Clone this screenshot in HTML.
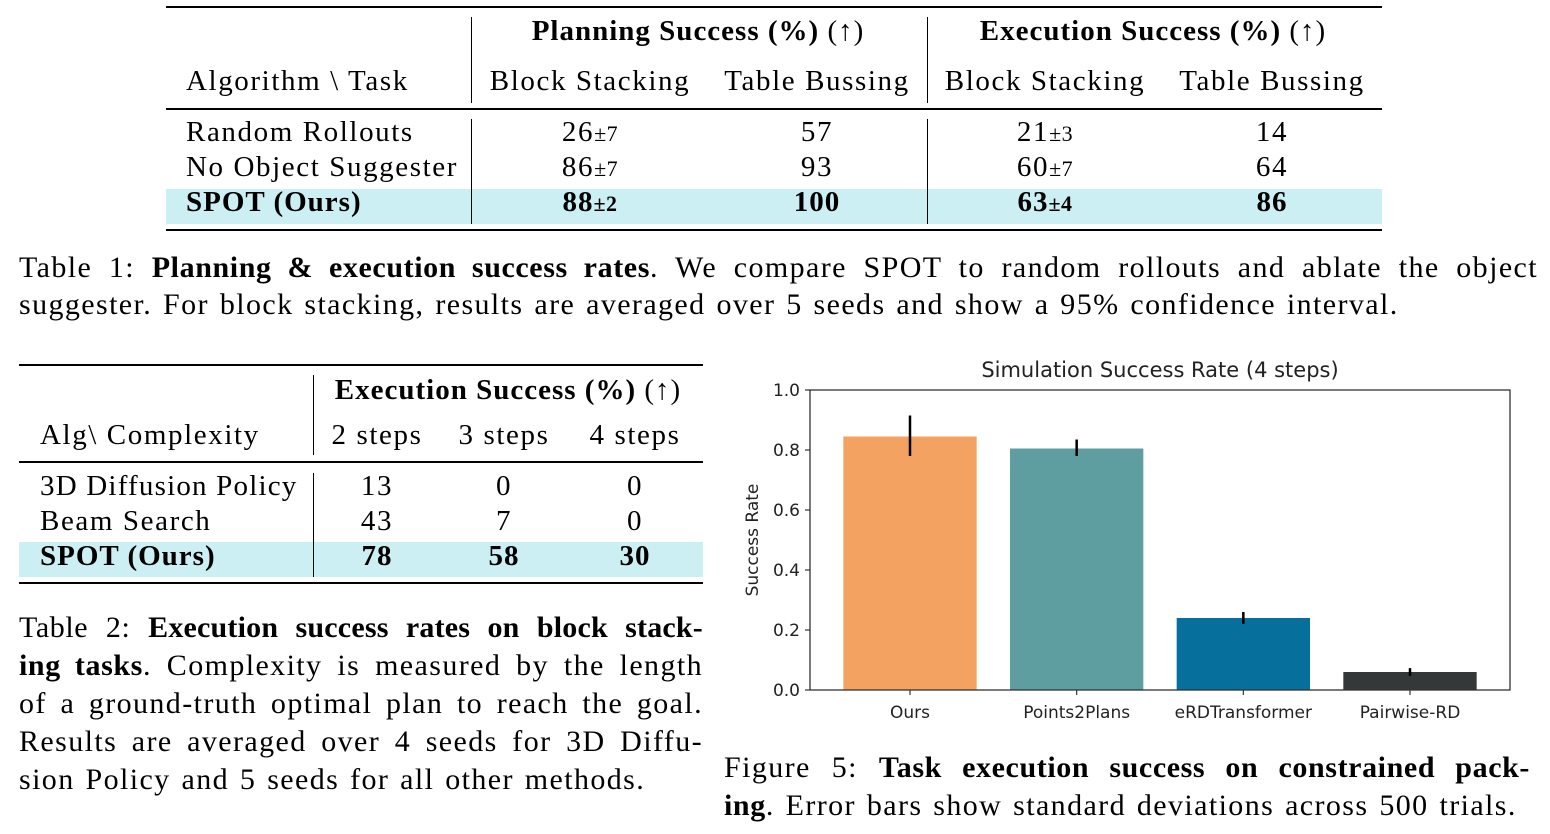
<!DOCTYPE html>
<html><head><meta charset="utf-8">
<style>
body{margin:0;width:1550px;height:834px;background:#fff;position:relative;overflow:hidden;font-family:"Liberation Serif",serif;color:#000}
.t{position:absolute;font-size:29px;line-height:1;white-space:nowrap;letter-spacing:1.6px}
.c{transform:translateX(-50%)}
.b{font-weight:bold}
.t.b,.t .b{letter-spacing:1px}
.r{position:absolute;background:#000}
.hl{position:absolute;background:#cbeff2}
.cap{position:absolute;font-size:30px;line-height:1;white-space:nowrap;letter-spacing:1.4px;word-spacing:2px}
.cap b{letter-spacing:0.6px}
.j{text-align:justify;text-align-last:justify;white-space:normal}
small{font-size:22px;letter-spacing:0.5px}
</style></head><body>
<div>
<div class="hl" style="left:166px;top:189px;width:1216px;height:35px"></div>
<div class="r" style="left:166px;top:6px;width:1216px;height:2px"></div>
<div class="r" style="left:166px;top:108px;width:1216px;height:1.5px"></div>
<div class="r" style="left:166px;top:229px;width:1216px;height:2px"></div>
<div class="r" style="left:471px;top:17px;width:1px;height:86px"></div>
<div class="r" style="left:927px;top:17px;width:1px;height:86px"></div>
<div class="r" style="left:471px;top:119px;width:1px;height:105px"></div>
<div class="r" style="left:927px;top:119px;width:1px;height:105px"></div>
<div class="t c b" style="left:698px;top:17px">Planning Success (%) <span style="font-weight:normal">(↑)</span></div>
<div class="t c b" style="left:1153px;top:17px">Execution Success (%) <span style="font-weight:normal">(↑)</span></div>
<div class="t" style="left:186px;top:67px">Algorithm \ Task</div>
<div class="t c" style="left:590px;top:67px">Block Stacking</div>
<div class="t c" style="left:817px;top:67px">Table Bussing</div>
<div class="t c" style="left:1045px;top:67px">Block Stacking</div>
<div class="t c" style="left:1272px;top:67px">Table Bussing</div>
<div class="t" style="left:186px;top:118px">Random Rollouts</div>
<div class="t c" style="left:590px;top:118px">26<small>±7</small></div>
<div class="t c" style="left:817px;top:118px">57</div>
<div class="t c" style="left:1045px;top:118px">21<small>±3</small></div>
<div class="t c" style="left:1272px;top:118px">14</div>
<div class="t" style="left:186px;top:153px">No Object Suggester</div>
<div class="t c" style="left:590px;top:153px">86<small>±7</small></div>
<div class="t c" style="left:817px;top:153px">93</div>
<div class="t c" style="left:1045px;top:153px">60<small>±7</small></div>
<div class="t c" style="left:1272px;top:153px">64</div>
<div class="t b" style="left:186px;top:188px">SPOT (Ours)</div>
<div class="t c b" style="left:590px;top:188px">88<small>±2</small></div>
<div class="t c b" style="left:817px;top:188px">100</div>
<div class="t c b" style="left:1045px;top:188px">63<small>±4</small></div>
<div class="t c b" style="left:1272px;top:188px">86</div>
</div>
<div>
<div class="cap j" style="left:19px;top:253px;width:1519px">Table 1: <b>Planning &amp; execution success rates</b>. We compare SPOT to random rollouts and ablate the object</div>
<div class="cap" style="left:19px;top:290px">suggester. For block stacking, results are averaged over 5 seeds and show a 95% confidence interval.</div>
</div>
<div>
<div class="hl" style="left:19px;top:542px;width:684px;height:35px"></div>
<div class="r" style="left:19px;top:364px;width:684px;height:2px"></div>
<div class="r" style="left:19px;top:461px;width:684px;height:1.5px"></div>
<div class="r" style="left:19px;top:582px;width:684px;height:2px"></div>
<div class="r" style="left:313px;top:375px;width:1px;height:80px"></div>
<div class="r" style="left:313px;top:473px;width:1px;height:104px"></div>
<div class="t c b" style="left:508px;top:376px">Execution Success (%) <span style="font-weight:normal">(↑)</span></div>
<div class="t" style="left:40px;top:421px">Alg\ Complexity</div>
<div class="t c" style="left:377px;top:421px">2 steps</div>
<div class="t c" style="left:504px;top:421px">3 steps</div>
<div class="t c" style="left:635px;top:421px">4 steps</div>
<div class="t" style="left:40px;top:472px;letter-spacing:1.2px">3D Diffusion Policy</div>
<div class="t c" style="left:377px;top:472px">13</div>
<div class="t c" style="left:504px;top:472px">0</div>
<div class="t c" style="left:635px;top:472px">0</div>
<div class="t" style="left:40px;top:507px">Beam Search</div>
<div class="t c" style="left:377px;top:507px">43</div>
<div class="t c" style="left:504px;top:507px">7</div>
<div class="t c" style="left:635px;top:507px">0</div>
<div class="t b" style="left:40px;top:542px">SPOT (Ours)</div>
<div class="t c b" style="left:377px;top:542px">78</div>
<div class="t c b" style="left:504px;top:542px">58</div>
<div class="t c b" style="left:635px;top:542px">30</div>
</div>
<div>
<div class="cap j" style="left:19px;top:613px;width:684px;letter-spacing:0.6px;word-spacing:0"><b style="font-weight:normal;letter-spacing:0.6px">Table 2:</b> <b style="letter-spacing:0.2px">Execution success rates on block stack-</b></div>
<div class="cap j" style="left:19px;top:651px;width:684px"><b>ing tasks</b>. Complexity is measured by the length</div>
<div class="cap j" style="left:19px;top:689px;width:684px">of a ground-truth optimal plan to reach the goal.</div>
<div class="cap j" style="left:19px;top:727px;width:684px">Results are averaged over 4 seeds for 3D Diffu-</div>
<div class="cap" style="left:19px;top:765px">sion Policy and 5 seeds for all other methods.</div>
</div>
<div>
<div class="cap j" style="left:724px;top:753px;width:806px">Figure 5: <b>Task execution success on constrained pack-</b></div>
<div class="cap" style="left:724px;top:791px"><b>ing</b>. Error bars show standard deviations across 500 trials.</div>
</div>
<svg id="chart" style="position:absolute;left:0;top:0" width="1550" height="834" font-family="DejaVu Sans, sans-serif"></svg>
<script>
const categories=["Ours","Points2Plans","eRDTransformer","Pairwise-RD"];
const values=[0.845,0.805,0.24,0.06];
const errLow=[0.78,0.78,0.22,0.047];
const errHigh=[0.915,0.835,0.26,0.073];
const yTicks=[0.0,0.2,0.4,0.6,0.8,1.0];
const colors=["#f4a261","#5f9ea0","#066f9b","#343838"];
const NS="http://www.w3.org/2000/svg";
const svg=document.getElementById('chart');
const L=810,R=1510,T=390,B=690;
const x=i=>L+(i+0.6)*(R-L)/4.2;
const y=v=>B-(v-0)/(1-0)*(B-T);
const bw=0.8*(R-L)/4.2;
function mk(tag,attrs,txt){const e=document.createElementNS(NS,tag);for(const k in attrs)e.setAttribute(k,attrs[k]);if(txt!==undefined)e.textContent=txt;svg.appendChild(e);return e;}
categories.forEach((c,i)=>{
 const r=mk('rect',{x:x(i)-bw/2,y:y(values[i]),width:bw,height:y(0)-y(values[i]),fill:colors[i]});
 
 
 const e=mk('line',{x1:x(i),x2:x(i),y1:y(errLow[i]),y2:y(errHigh[i]),stroke:'#000','stroke-width':2.5});
 
 
 mk('line',{x1:x(i),x2:x(i),y1:B,y2:B+5,stroke:'#333','stroke-width':1.2});
 const t=mk('text',{x:x(i),y:B+28,'text-anchor':'middle','font-size':17,fill:'#222'},c);
 
 
});
yTicks.forEach(v=>{
 mk('line',{x1:L-5,x2:L,y1:y(v),y2:y(v),stroke:'#333','stroke-width':1.2});
 const t=mk('text',{x:L-10,y:y(v)+6,'text-anchor':'end','font-size':17,fill:'#222'},v.toFixed(1));
 
 
});
const fr=mk('rect',{x:L,y:T,width:R-L,height:B-T,fill:'none',stroke:'#333','stroke-width':1.3});


const ti=mk('text',{x:(L+R)/2,y:T-13,'text-anchor':'middle','font-size':21,fill:'#222'},'Simulation Success Rate (4 steps)');


const yl=mk('text',{x:758,y:540,'text-anchor':'middle','font-size':17,fill:'#222',transform:'rotate(-90 758 540)'},'Success Rate');


</script>
</body></html>
